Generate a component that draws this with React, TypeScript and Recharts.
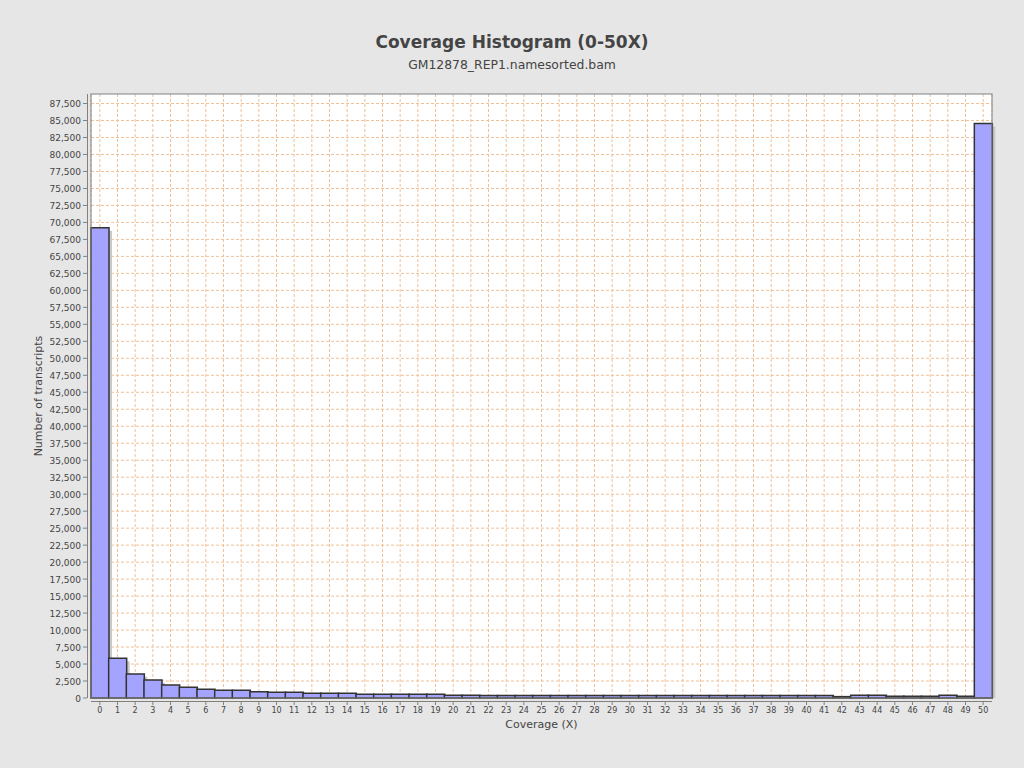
import React from 'react';
import { BarChart, Bar, XAxis, YAxis, CartesianGrid, Rectangle } from 'recharts';

const coverage = [
  '0', '1', '2', '3', '4', '5', '6', '7', '8', '9',
  '10', '11', '12', '13', '14', '15', '16', '17', '18', '19',
  '20', '21', '22', '23', '24', '25', '26', '27', '28', '29',
  '30', '31', '32', '33', '34', '35', '36', '37', '38', '39',
  '40', '41', '42', '43', '44', '45', '46', '47', '48', '49', '50',
];

const transcripts = [
  69200, 5850, 3550, 2650, 1900, 1580, 1280, 1130, 1130, 930,
  840, 840, 690, 690, 690, 545, 545, 545, 545, 545,
  400, 400, 380, 380, 380, 380, 380, 380, 380, 380,
  380, 380, 380, 380, 380, 380, 380, 380, 380, 380,
  380, 380, 200, 400, 400, 240, 240, 240, 400, 240, 84560,
];

const yTicks = [
  0, 2500, 5000, 7500, 10000, 12500, 15000, 17500, 20000, 22500,
  25000, 27500, 30000, 32500, 35000, 37500, 40000, 42500, 45000, 47500,
  50000, 52500, 55000, 57500, 60000, 62500, 65000, 67500, 70000, 72500,
  75000, 77500, 80000, 82500, 85000, 87500,
];

const data = coverage.map((c, i) => ({ coverage: c, count: transcripts[i] }));

// plot area box (set by margins / axis sizes below)
const LEFT = 91;
const RIGHT = 992;
const TOP = 94;
const BOTTOM = 698;

const FONT = '"DejaVu Sans", sans-serif';
const TEXT = '#444444';
const AXIS = '#808080';

const XTick = (props: any) => {
  const { x, payload } = props;
  return (
    <g>
      <line x1={x} x2={x} y1={BOTTOM + 3} y2={BOTTOM + 7} stroke={AXIS} />
      <text x={x} y={BOTTOM + 15} textAnchor="middle" fontSize={8} fontFamily={FONT} fill={TEXT}>
        {payload.value}
      </text>
    </g>
  );
};

const YTick = (props: any) => {
  const { y, payload } = props;
  return (
    <g>
      <line x1={LEFT - 8} x2={LEFT - 4} y1={y} y2={y} stroke={AXIS} />
      <text x={LEFT - 10} y={y + 3.5} textAnchor="end" fontSize={9} fontFamily={FONT} fill={TEXT}>
        {payload.value.toLocaleString('en-US')}
      </text>
    </g>
  );
};

const ShadowBar = (props: any) => {
  const { x, y, width, height } = props;
  return (
    <g>
      {height > 3 && <rect x={x + 3} y={y + 3} width={width} height={height - 3} fill="#c8c8c8" />}
      <Rectangle x={x} y={y} width={width} height={height} fill="#a4a4ff" stroke="#333333" strokeWidth={1.5} />
    </g>
  );
};

export default function App() {
  return (
    <div style={{ position: 'absolute', left: 0, top: 0, width: 1024, height: 768, background: '#e6e6e6' }}>
      <BarChart
        width={1024}
        height={768}
        data={data}
        margin={{ top: TOP, right: 1024 - RIGHT, bottom: 0, left: 0 }}
        barCategoryGap={0}
        barGap={0}
      >
        <CartesianGrid
          fill="#ffffff"
          stroke="#f0c098"
          strokeDasharray="3 2"
          horizontalValues={yTicks}
        />
        <XAxis
          dataKey="coverage"
          height={768 - BOTTOM}
          axisLine={false}
          tickLine={false}
          interval={0}
          tick={<XTick />}
        />
        <YAxis
          width={LEFT}
          domain={[0, 88900]}
          ticks={yTicks}
          interval={0}
          axisLine={false}
          tickLine={false}
          tick={<YTick />}
        />
        <Bar dataKey="count" shape={<ShadowBar />} isAnimationActive={false} />
      </BarChart>
      <svg width={1024} height={768} style={{ position: 'absolute', left: 0, top: 0, pointerEvents: 'none' }}>
        <rect x={LEFT} y={TOP} width={RIGHT - LEFT} height={BOTTOM - TOP} fill="none" stroke={AXIS} />
        <line x1={LEFT - 3.5} x2={LEFT - 3.5} y1={TOP} y2={BOTTOM} stroke={AXIS} />
        <line x1={LEFT} x2={RIGHT} y1={BOTTOM + 3.5} y2={BOTTOM + 3.5} stroke={AXIS} />
        <text x={512} y={48} textAnchor="middle" fontSize={17} fontWeight="bold" fontFamily={FONT} fill={TEXT}>
          Coverage Histogram (0-50X)
        </text>
        <text x={512} y={69} textAnchor="middle" fontSize={12.4} fontFamily={FONT} fill={TEXT}>
          GM12878_REP1.namesorted.bam
        </text>
        <text x={(LEFT + RIGHT) / 2} y={728} textAnchor="middle" fontSize={11} fontFamily={FONT} fill={TEXT}>
          Coverage (X)
        </text>
        <text
          x={42}
          y={(TOP + BOTTOM) / 2}
          textAnchor="middle"
          fontSize={11}
          fontFamily={FONT}
          fill={TEXT}
          transform={`rotate(-90 42 ${(TOP + BOTTOM) / 2})`}
        >
          Number of transcripts
        </text>
      </svg>
    </div>
  );
}
